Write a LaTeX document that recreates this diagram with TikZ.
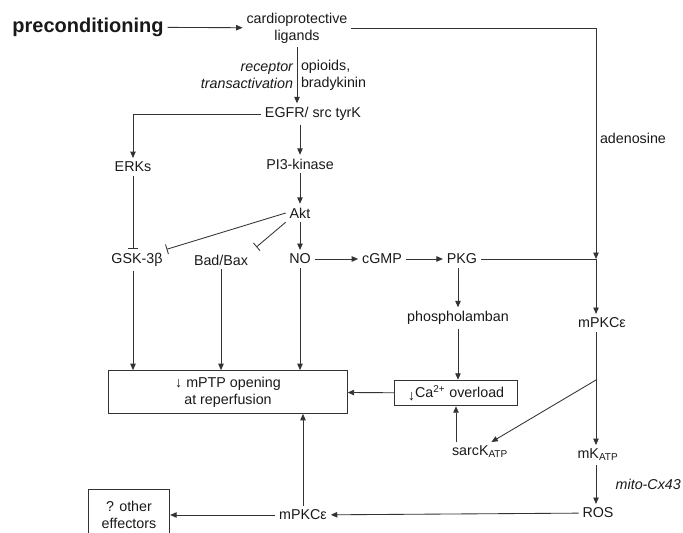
\documentclass[tikz,border=0pt]{standalone}
\usepackage{fontspec}
\setmainfont{Liberation Sans}
\usetikzlibrary{arrows.meta}

\begin{document}
\begin{tikzpicture}[x=0.7pt,y=-0.7pt,line width=0.6pt,draw=black!80,
   every node/.style={inner sep=2.5pt,text=black!90},
   >={Triangle[length=4.5pt,width=3.8pt]},
   inh/.style={-{Bar[width=7pt]}},
   box/.style={draw,align=center}]
   \useasboundingbox (0,0) rectangle (683,533);
   % nodes
   \node (pre) at (88,27) {\fontsize{14}{16}\selectfont\bfseries preconditioning};
   \node[align=center] (lig) at (297,28) {cardioprotective\\ligands};
   \node (egfr) at (313,114) {EGFR/ src tyrK};
   \node (erk) at (133,167) {ERKs};
   \node (pi3) at (300,164) {PI3-kinase};
   \node (akt) at (300,213) {Akt};
   \node (gsk) at (137,260) {GSK-3β};
   \node (bad) at (221,260) {Bad/Bax};
   \node (no) at (300,259) {NO};
   \node (cgmp) at (382,259) {cGMP};
   \node (pkg) at (462,259) {PKG};
   \node (pln) at (458,318) {phospholamban};
   \node[box,minimum width=86pt,minimum height=18pt] (ca) at (456,393) {\raisebox{-2pt}{↓}Ca\textsuperscript{2+} overload};
   \node[box,minimum width=167pt,minimum height=30pt] (mptp) at (228,392) {↓ mPTP opening\\at reperfusion};
   \node (pkc1) at (602,323) {mPKCε};
   \node (sarc) at (480,452) {sarcK\textsubscript{ATP}};
   \node (mk) at (598,455) {mK\textsubscript{ATP}};
   \node (ros) at (598,513) {ROS};
   \node (pkc2) at (303,515) {mPKCε};
   \node[box,minimum width=57pt,minimum height=36pt] (oth) at (129,515) {? other\\effectors};
   \coordinate (j) at (596,259);
   \coordinate (br) at (596,380);
   % connectors
   \draw[->] (pre) -- (lig);
   \draw[->] (lig) -- (lig |- egfr.north)
      node[midway,left,align=right,font=\itshape] {receptor\\transactivation}
      node[midway,right,align=left] {opioids,\\bradykinin};
   \draw[->] (egfr.west) -| (erk);
   \draw[->] (egfr.south -| pi3) -- (pi3);
   \draw[->] (pi3) -- (akt);
   \draw[->] (akt) -- (no);
   \draw[inh] (erk) -- (erk |- gsk.north);
   \draw[inh] (akt.west) -- (gsk.north east);
   \draw[inh,shorten >=4pt] (akt.south west) -- (bad.north east);
   \draw[->] (no) -- (cgmp);
   \draw[->] (cgmp) -- (pkg);
   \draw[->] (pkg.south -| pln) -- (pln);
   \draw[->] (pln) -- (pln |- ca.north);
   \draw[->] (ca) -- (mptp);
   \draw[->] (gsk.south -| erk) -- (erk |- mptp.north);
   \draw[->] (bad) -- (bad |- mptp.north);
   \draw[->] (no) -- (no |- mptp.north);
   \draw[->] (lig.east) -| node[pos=0.74,right] {adenosine} (j);
   \draw (pkg) -- (j);
   \draw[->] (j) -- (j |- pkc1.north);
   \draw (j |- pkc1.south) -- (br);
   \draw[->] (br) -- ([xshift=8pt]sarc.north);
   \draw[->] (br) -- (br |- mk.north);
   \draw[->] (sarc.north -| ca) -- (ca);
   \draw[->] (mk.south -| br) -- (br |- ros.north)
      node[midway,right=11pt,font=\itshape] {mito-Cx43};
   \draw[->] (ros) -- (pkc2);
   \draw[->] (pkc2) -- (oth);
   \draw[->] (pkc2) -- (pkc2 |- mptp.south);
\end{tikzpicture}
\end{document}
